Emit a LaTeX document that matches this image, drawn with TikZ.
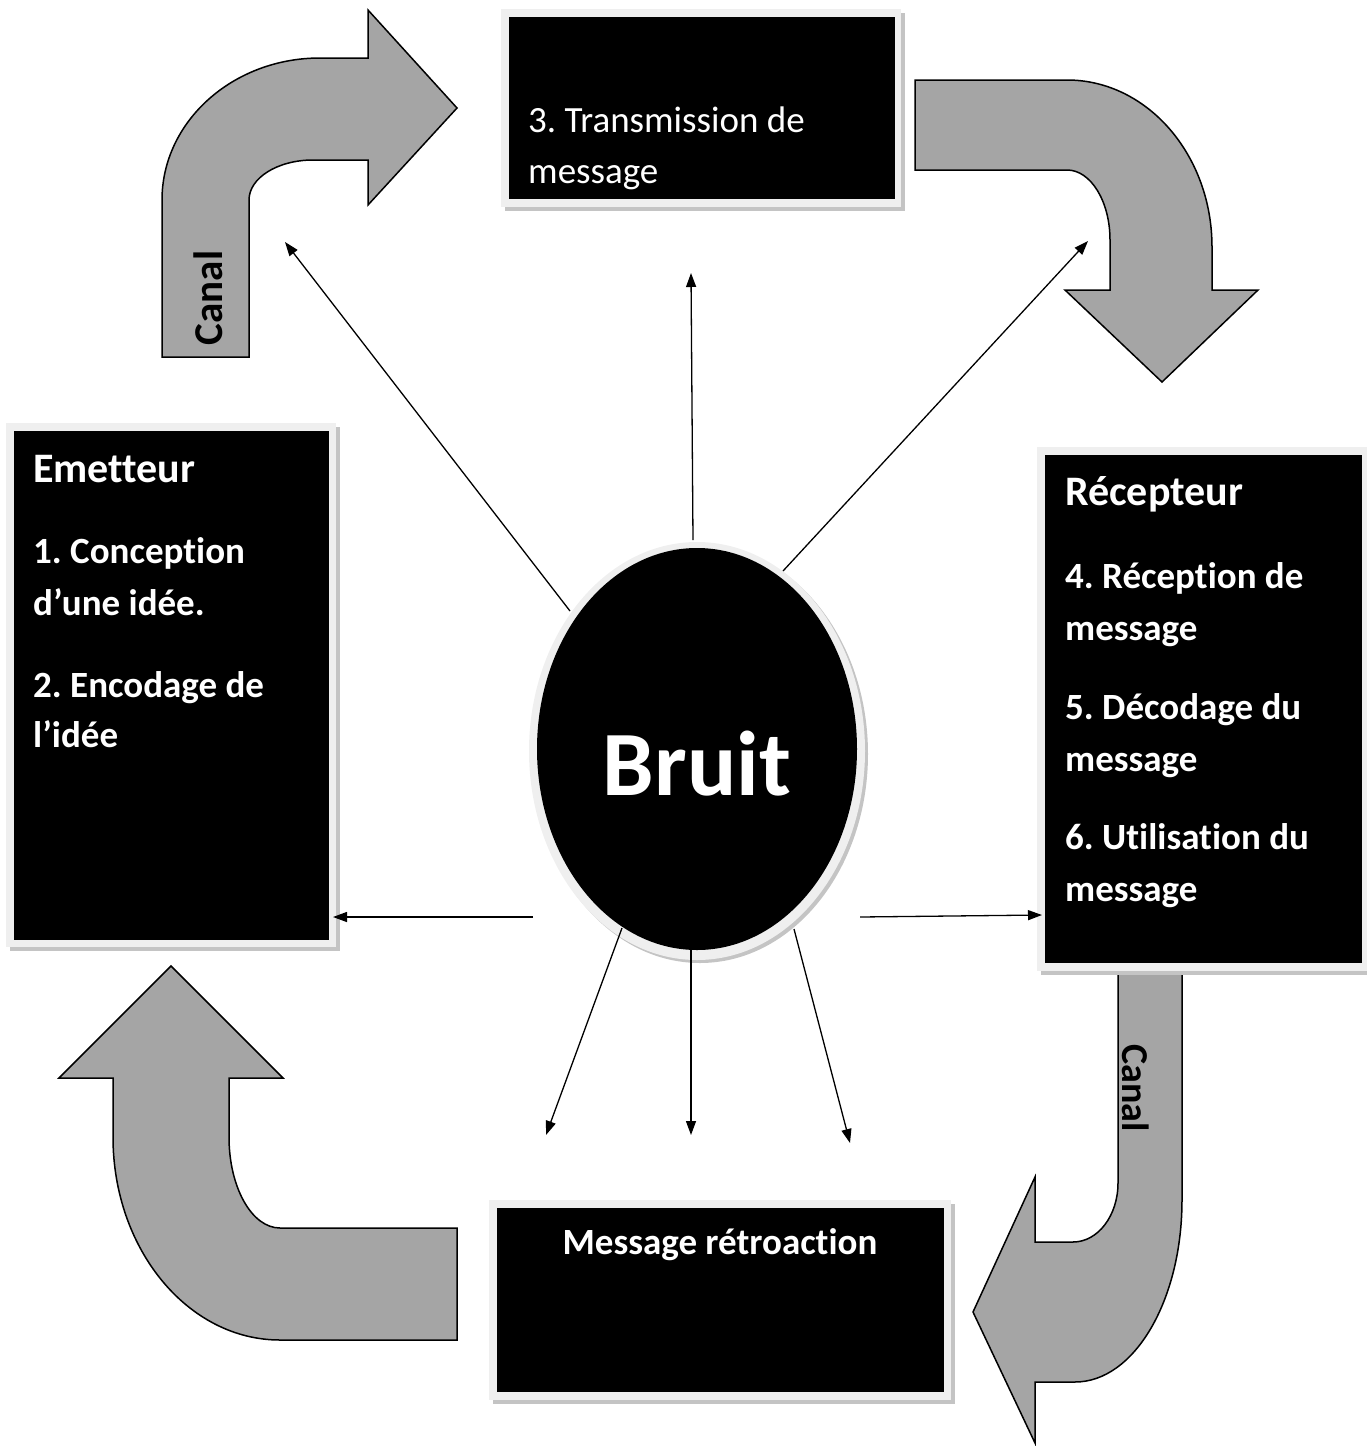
\documentclass[tikz,border=0pt]{standalone}
\usepackage{fontspec}
\setmainfont{Carlito}[Ligatures=NoCommon]
\usetikzlibrary{arrows.meta,shapes.geometric}
\definecolor{arrowgray}{HTML}{A5A5A5}
\definecolor{framegray}{HTML}{EFEFEF}
\definecolor{shadowgray}{HTML}{C4C4C4}
\frenchspacing
\begin{document}
\begin{tikzpicture}[x=1pt,y=-1pt,
  blockarrow/.style={fill=arrowgray, draw=black, line width=1.5pt, line join=miter},
  blackbox/.style={fill=black, draw=none, inner sep=0, anchor=north west},
  framebox/.style={fill=framegray},
  shadowbox/.style={fill=shadowgray},
  wtxt/.style={text=white, inner sep=0, anchor=base west, font=\fontsize{37}{44}\selectfont},
  wbold/.style={text=white, inner sep=0, anchor=base west, font=\fontsize{37}{44}\selectfont\bfseries},
  whead/.style={text=white, inner sep=0, anchor=base west, font=\fontsize{42}{48}\selectfont\bfseries},
  canaltxt/.style={font=\fontsize{38}{44}\selectfont\bfseries, inner sep=0},
  noise/.style={-{Triangle[length=14pt,width=10pt]}, line width=1.3pt}]

\useasboundingbox (0,0) rectangle (1367,1446);

% ---------- block arrows ----------
% top-left
\draw[blockarrow] (162,357) -- (162,200)
  .. controls (162,121.6) and (232.7,58) .. (320,58)
  -- (368,58) -- (368,10) -- (457,108) -- (368,205) -- (368,160) -- (313,160)
  .. controls (277.7,160) and (249,177.9) .. (249,200)
  -- (249,357) -- cycle;
% top-right
\draw[blockarrow] (915,80) -- (1067,80)
  .. controls (1147.1,80) and (1212,154.8) .. (1212,247)
  -- (1212,290) -- (1258,290) -- (1162,382) -- (1065,290) -- (1110,290) -- (1110,240)
  .. controls (1110,201.3) and (1090.7,170) .. (1067,170)
  -- (915,170) -- cycle;
% bottom-right
\draw[blockarrow] (1118,968) -- (1118,1183)
  .. controls (1118,1215.6) and (1097.9,1242) .. (1073,1242)
  -- (1035,1242) -- (1035,1177) -- (973,1312) -- (1035,1443) -- (1035,1382) -- (1075,1382)
  .. controls (1134.1,1382) and (1182,1300.5) .. (1182,1200)
  -- (1182,968) -- cycle;
% bottom-left
\draw[blockarrow] (457,1228) -- (280,1228)
  .. controls (251.8,1228) and (229,1187.3) .. (229,1137)
  -- (229,1078) -- (283,1078) -- (171,966) -- (59,1078) -- (113,1078) -- (113,1137)
  .. controls (113,1249.1) and (187.8,1340) .. (280,1340)
  -- (457,1340) -- cycle;

\node[canaltxt, font=\fontsize{41}{46}\selectfont\bfseries, rotate=90] (canal1) at (208,298) {Canal};
\node[canaltxt, rotate=-90] (canal2) at (1136,1088) {Canal};

% ---------- boxes ----------
% Transmission
\fill[shadowbox] (505,13) rectangle (905,211);
\fill[framebox] (501,9) rectangle (901,207);
\node[blackbox, minimum width=386pt, minimum height=182pt] (trans) at (509,17) {};
\node[wtxt] (trans1) at (528,132) {3. Transmission de};
\node[wtxt] (trans2) at (528,183) {message};

% Emetteur
\fill[shadowbox] (10,427) rectangle (340,951);
\fill[framebox] (6,423) rectangle (336,947);
\node[blackbox, minimum width=315pt, minimum height=509pt] (emet) at (14,431) {};
\node[whead] (emet1) at (33,482) {Emetteur};
\node[wbold] (emet2) at (33,563) {1. Conception};
\node[wbold] (emet3) at (33,615) {d’une idée.};
\node[wbold] (emet4) at (33,697) {2. Encodage de};
\node[wbold] (emet5) at (33,747) {l’idée};

% Recepteur
\fill[shadowbox] (1041,451) rectangle (1371,975);
\fill[framebox] (1037,447) rectangle (1367,971);
\node[blackbox, minimum width=317pt, minimum height=508pt] (recep) at (1045,455) {};
\node[whead] (recep1) at (1065,505) {Récepteur};
\node[wbold] (recep2) at (1065,588) {4. Réception de};
\node[wbold] (recep3) at (1065,640) {message};
\node[wbold] (recep4) at (1065,719) {5. Décodage du};
\node[wbold] (recep5) at (1065,771) {message};
\node[wbold] (recep6) at (1065,849) {6. Utilisation du};
\node[wbold] (recep7) at (1065,901) {message};

% Message retroaction
\fill[shadowbox] (493,1204) rectangle (955,1404);
\fill[framebox] (489,1200) rectangle (951,1400);
\node[blackbox, minimum width=447pt, minimum height=184pt] (retro) at (497,1208) {};
\node[wbold, anchor=base] (retro1) at (720,1254) {Message rétroaction};

% ---------- Bruit ----------
\fill[shadowgray] (700,754) ellipse [x radius=168pt, y radius=209pt];
\fill[framegray] (697,751) ellipse [x radius=168pt, y radius=209pt];
\node[ellipse, fill=black, inner sep=0, minimum width=320pt, minimum height=402pt] (bruit) at (697,749) {};
\node[text=white, inner sep=0, anchor=base, font=\fontsize{92}{100}\selectfont\bfseries] (bruitlbl) at (697,795) {Bruit};

% ---------- noise arrows ----------
\coordinate (s1) at (570,611);  \coordinate (e1) at (285,242);
\coordinate (s2) at (693,540);  \coordinate (e2) at (691,273);
\coordinate (s3) at (783,571);  \coordinate (e3) at (1088,241);
\coordinate (s4) at (533,917);  \coordinate (e4) at (333,917);
\coordinate (s5) at (860,917);  \coordinate (e5) at (1042,915);
\coordinate (s6) at (622,928);  \coordinate (e6) at (546,1135);
\coordinate (s7) at (691,949);  \coordinate (e7) at (691,1135);
\coordinate (s8) at (794,929);  \coordinate (e8) at (850,1143);
\draw[noise] (s1) -- (e1);
\draw[noise] (s2) -- (e2);
\draw[noise] (s3) -- (e3);
\draw[noise] (s4) -- (e4);
\draw[noise] (s5) -- (e5);
\draw[noise] (s6) -- (e6);
\draw[noise] (s7) -- (e7);
\draw[noise] (s8) -- (e8);
\end{tikzpicture}
\end{document}
